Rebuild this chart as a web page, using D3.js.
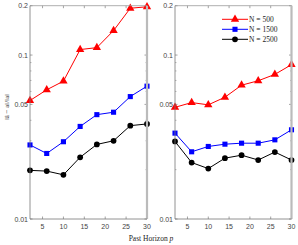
<!DOCTYPE html>
<meta charset="utf-8">
<style>
body { margin: 0; background: #fff; }
.tick-label { font: 7px "Liberation Sans", Arial, sans-serif; fill: #444; }
.serif { font-family: "Liberation Serif", "DejaVu Serif", serif; fill: #222; }
</style>
<svg width="298" height="245"></svg>
<script src="https://d3js.org/d3.v7.min.js"></script>
<script>

var horizons = [2, 6, 10, 14, 18, 22, 26, 30];
var seriesNames = ["N = 500", "N = 1500", "N = 2500"];

// left panel
var leftN500  = [0.0528, 0.0614, 0.0693, 0.108, 0.111, 0.141, 0.193, 0.197];
var leftN1500 = [0.0283, 0.0251, 0.0296, 0.0367, 0.0433, 0.0448, 0.0558, 0.0646];
var leftN2500 = [0.0198, 0.0196, 0.0186, 0.0238, 0.0285, 0.0300, 0.0371, 0.0380];

// right panel
var rightN500  = [0.0480, 0.0513, 0.0497, 0.0553, 0.0655, 0.0697, 0.0762, 0.0874];
var rightN1500 = [0.0334, 0.0257, 0.0277, 0.0286, 0.0290, 0.0290, 0.0304, 0.0350];
var rightN2500 = [0.0297, 0.0221, 0.0203, 0.0235, 0.0245, 0.0229, 0.0256, 0.0229];

var xTicks = [5, 10, 15, 20, 25, 30];
var yTicks = [0.01, 0.05, 0.1, 0.2];
var yTickLabels = ["0.01", "0.05", "0.1", "0.2"];

var colors = ["#ff0000", "#0000ff", "#000000"];
var shapes = [d3.symbolTriangle, d3.symbolSquare, d3.symbolCircle];
var symSize = [30, 26, 26];

var svg = d3.select("svg");
var plotTop = 5.7, plotBottom = 219;

var y = d3.scaleLog().domain([0.01, 0.2]).range([plotBottom, plotTop]);

var minorTicks = [];
[0.01, 0.1].forEach(function(d) {
  for (var k = 2; k <= 9; k++) {
    var v = +(d * k).toFixed(3);
    if (v <= 0.2 && yTicks.indexOf(v) < 0) minorTicks.push(v);
  }
});

function panel(x0, x1, data) {
  var x = d3.scaleLinear().domain([2, 30]).range([x0, x1]);
  var g = svg.append("g");

  g.append("rect").attr("x", x0).attr("y", plotTop).attr("width", x1 - x0).attr("height", plotBottom - plotTop)
    .attr("fill", "#fff");

  // ticks
  xTicks.forEach(function(t) {
    g.append("line").attr("x1", x(t)).attr("x2", x(t)).attr("y1", plotBottom).attr("y2", plotBottom - 2.5)
      .attr("stroke", "#666").attr("stroke-width", 0.6);
    g.append("line").attr("x1", x(t)).attr("x2", x(t)).attr("y1", plotTop).attr("y2", plotTop + 2.5)
      .attr("stroke", "#666").attr("stroke-width", 0.6);
    g.append("text").attr("class", "tick-label").attr("x", x(t)).attr("y", plotBottom + 10)
      .attr("text-anchor", "middle").text(t);
  });
  yTicks.forEach(function(t, i) {
    g.append("line").attr("x1", x0).attr("x2", x0 + 2.5).attr("y1", y(t)).attr("y2", y(t))
      .attr("stroke", "#666").attr("stroke-width", 0.6);
    g.append("line").attr("x1", x1).attr("x2", x1 - 2.5).attr("y1", y(t)).attr("y2", y(t))
      .attr("stroke", "#666").attr("stroke-width", 0.6);
    g.append("text").attr("class", "tick-label").attr("x", x0 - 2).attr("y", y(t) + 2.5)
      .attr("text-anchor", "end").text(yTickLabels[i]);
  });
  minorTicks.forEach(function(t) {
    g.append("line").attr("x1", x0).attr("x2", x0 + 1.5).attr("y1", y(t)).attr("y2", y(t))
      .attr("stroke", "#777").attr("stroke-width", 0.5);
    g.append("line").attr("x1", x1).attr("x2", x1 - 1.5).attr("y1", y(t)).attr("y2", y(t))
      .attr("stroke", "#777").attr("stroke-width", 0.5);
  });

  var line = d3.line().x(function(d, i) { return x(horizons[i]); }).y(function(d) { return y(d); });

  data.forEach(function(s, j) {
    g.append("path").datum(s).attr("d", line).attr("fill", "none")
      .attr("stroke", colors[j]).attr("stroke-width", 1);
    g.selectAll(".m" + j).data(s).enter().append("path")
      .attr("d", d3.symbol().type(shapes[j]).size(symSize[j]))
      .attr("transform", function(d, i) { return "translate(" + x(horizons[i]) + "," + y(d) + ")"; })
      .attr("fill", colors[j]);
  });

  // axis lines
  g.append("line").attr("x1", x0).attr("x2", x1).attr("y1", plotTop).attr("y2", plotTop)
    .attr("stroke", "#999").attr("stroke-width", 0.8);
  g.append("line").attr("x1", x1).attr("x2", x1).attr("y1", plotTop).attr("y2", plotBottom)
    .attr("stroke", "#bbb").attr("stroke-width", 2.2);
  g.append("line").attr("x1", x0).attr("x2", x0).attr("y1", plotTop).attr("y2", plotBottom)
    .attr("stroke", "#777").attr("stroke-width", 0.8);
  g.append("line").attr("x1", x0).attr("x2", x1).attr("y1", plotBottom).attr("y2", plotBottom)
    .attr("stroke", "#777").attr("stroke-width", 0.8);
  return g;
}

panel(30, 147, [leftN500, leftN1500, leftN2500]);
var right = panel(175, 291.5, [rightN500, rightN1500, rightN2500]);

// legend
var leg = right.append("g");
leg.append("rect").attr("x", 219).attr("y", 12).attr("width", 70).attr("height", 33).attr("fill", "#fff");
seriesNames.forEach(function(name, j) {
  var ly = 19.3 + j * 10;
  leg.append("line").attr("x1", 222).attr("x2", 248).attr("y1", ly).attr("y2", ly)
    .attr("stroke", colors[j]).attr("stroke-width", 1);
  leg.append("path").attr("d", d3.symbol().type(shapes[j]).size(symSize[j]))
    .attr("transform", "translate(235," + ly + ")").attr("fill", colors[j]);
  leg.append("text").attr("class", "serif").attr("x", 249).attr("y", ly + 2.6)
    .style("font-size", "7.5px").text(name);
});

// axis titles
svg.append("text").attr("class", "serif").attr("x", 151).attr("y", 241)
  .attr("text-anchor", "middle").style("font-size", "7.5px")
  .html('Past Horizon <tspan font-style="italic">p</tspan>');

svg.append("text").attr("class", "serif")
  .attr("transform", "translate(9,107) rotate(-90)")
  .attr("text-anchor", "middle").style("font-size", "7px")
  .text("\u2016\u00e2 \u2212 a\u2016/\u2016a\u2016");

</script>
